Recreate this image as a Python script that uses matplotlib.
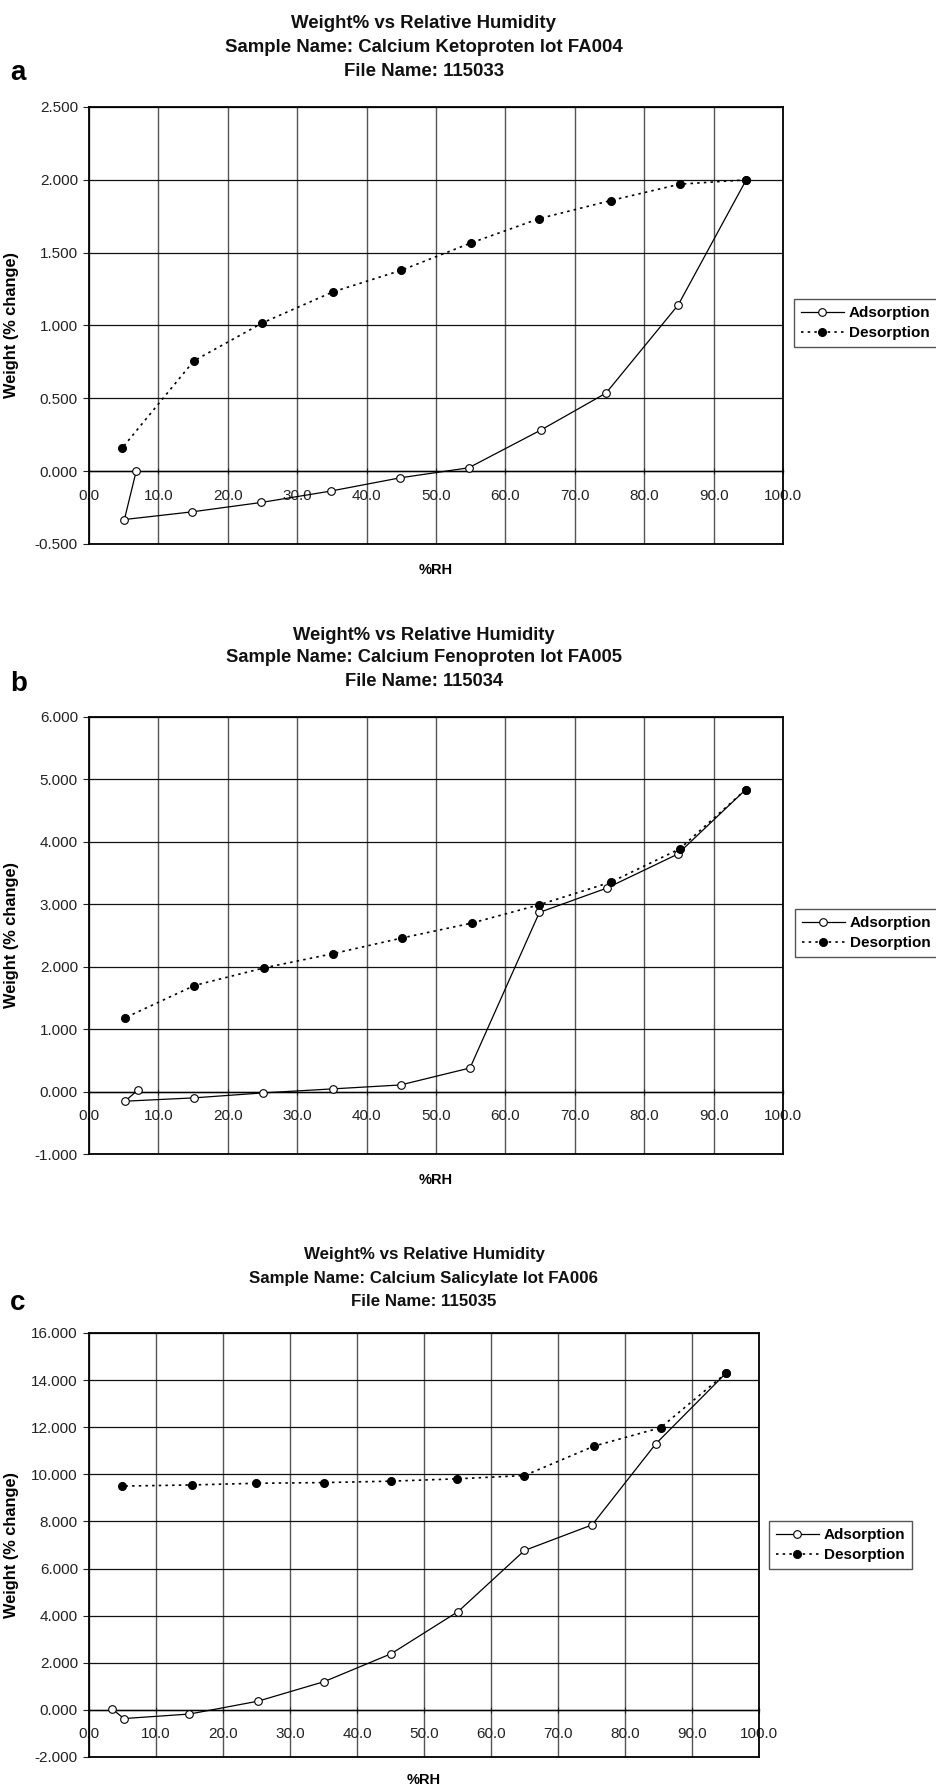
import matplotlib
matplotlib.use('Agg')
import matplotlib.pyplot as plt
from matplotlib.ticker import FormatStrFormatter, MultipleLocator

plt.rcParams['font.family'] = ['Liberation Sans', 'DejaVu Sans']

# panel a - Calcium Ketoproten
a_ads_x = [6.8, 5.1, 14.9, 24.8, 34.8, 44.8, 54.7, 65.1, 74.5, 84.9, 94.7]
a_ads_y = [0.000, -0.332, -0.279, -0.215, -0.137, -0.046, 0.023, 0.282, 0.536, 1.141, 2.000]
a_des_x = [94.7, 85.1, 75.2, 64.9, 55.0, 45.0, 35.1, 25.0, 15.1, 4.8]
a_des_y = [2.000, 1.970, 1.858, 1.734, 1.566, 1.379, 1.230, 1.018, 0.757, 0.160]

# panel b - Calcium Fenoproten
b_ads_x = [7.0, 5.2, 15.1, 25.1, 35.1, 44.9, 54.9, 64.9, 74.6, 84.8, 94.6]
b_ads_y = [0.021, -0.154, -0.101, -0.021, 0.043, 0.106, 0.378, 2.870, 3.259, 3.802, 4.835]
b_des_x = [94.6, 85.1, 75.2, 64.9, 55.2, 45.1, 35.2, 25.2, 15.2, 5.2]
b_des_y = [4.835, 3.887, 3.355, 2.993, 2.700, 2.460, 2.210, 1.981, 1.699, 1.182]

# panel c - Calcium Salicylate
c_ads_x = [3.5, 5.2, 15.0, 25.2, 35.1, 45.1, 55.1, 65.0, 75.1, 84.6, 95.1]
c_ads_y = [0.032, -0.368, -0.176, 0.368, 1.200, 2.384, 4.176, 6.768, 7.856, 11.296, 14.304]
c_des_x = [95.1, 85.3, 75.4, 65.0, 55.0, 45.1, 35.1, 24.9, 15.4, 4.9]
c_des_y = [14.30, 11.98, 11.20, 9.95, 9.81, 9.71, 9.65, 9.62, 9.55, 9.50]

titles_a = ['Weight% vs Relative Humidity', 'Sample Name: Calcium Ketoproten lot FA004', 'File Name: 115033']
titles_b = ['Weight% vs Relative Humidity', 'Sample Name: Calcium Fenoproten lot FA005', 'File Name: 115034']
titles_c = ['Weight% vs Relative Humidity', 'Sample Name: Calcium Salicylate lot FA006', 'File Name: 115035']

W, H = 937, 1788
fig = plt.figure(figsize=(W / 100, H / 100), dpi=100)


def panel(box, ads_x, ads_y, des_x, des_y, ylim, ystep, titles, title_ys, title_size,
          letter, letter_y, leg_xy, xlabel_y):
    left, top, right, bottom = box
    ax = fig.add_axes([left / W, 1 - bottom / H, (right - left) / W, (bottom - top) / H])
    ax.plot(ads_x, ads_y, color='black', lw=0.9, marker='o', ms=5.5, mfc='white',
            mec='black', mew=0.8, label='Adsorption', zorder=3)
    ax.plot(des_x, des_y, color='black', lw=1.2, ls=(0, (1.5, 2.5)), marker='o', ms=5.5,
            mfc='black', mec='black', label='Desorption', zorder=3)

    ax.set_xlim(0, 100)
    ax.set_ylim(*ylim)
    ax.xaxis.set_major_locator(MultipleLocator(10))
    ax.yaxis.set_major_locator(MultipleLocator(ystep))
    ax.xaxis.set_major_formatter(FormatStrFormatter('%.1f'))
    ax.yaxis.set_major_formatter(FormatStrFormatter('%.3f'))
    ax.set_axisbelow(True)
    ax.xaxis.grid(True, color='#555555', lw=1.0)
    ax.yaxis.grid(True, color='#111111', lw=0.9)

    # x axis crosses at y = 0, frame still closes at the bottom
    ax.spines['bottom'].set_position(('data', 0))
    ax.spines['bottom'].set_linewidth(1.0)
    for s in ['top', 'left', 'right']:
        ax.spines[s].set_linewidth(1.3)
    ax.plot([0, 1], [0, 0], transform=ax.transAxes, color='black', lw=1.3, clip_on=False)

    ax.tick_params(axis='x', direction='inout', length=5, pad=10, labelsize=11, colors='#222222')
    ax.tick_params(axis='y', direction='out', length=4, pad=4, labelsize=11, colors='#222222')

    ax.set_ylabel('Weight (% change)', fontsize=11.8, fontweight='bold')
    ax.yaxis.set_label_coords((19 - left) / (right - left), 0.5)
    fig.text((left + right) / 2 / W, 1 - xlabel_y / H, '%RH', ha='center', va='center',
             fontsize=10.5, fontweight='bold')

    for t, ty in zip(titles, title_ys):
        fig.text(424 / W, 1 - ty / H, t, ha='center', va='center', fontsize=title_size,
                 fontweight='bold', color='#111111')
    fig.text(10 / W, 1 - letter_y / H, letter, ha='left', va='center', fontsize=20,
             fontweight='bold')

    leg = ax.legend(loc='upper left', bbox_to_anchor=(leg_xy[0] / W, 1 - leg_xy[1] / H),
                    bbox_transform=fig.transFigure, frameon=True, fancybox=False,
                    edgecolor='#555555', framealpha=1, borderaxespad=0, handlelength=2.8,
                    handletextpad=0.35, borderpad=0.45, labelspacing=0.4,
                    prop=dict(weight='bold', size=11))
    leg.get_frame().set_linewidth(1.0)
    return ax


panel((89, 107, 783, 544), a_ads_x, a_ads_y, a_des_x, a_des_y, (-0.5, 2.5), 0.5,
      titles_a, [23, 47, 72], 13.4, 'a', 73, (794, 299), 570)
panel((89, 717, 783, 1154), b_ads_x, b_ads_y, b_des_x, b_des_y, (-1, 6), 1,
      titles_b, [635, 658, 682], 13.2, 'b', 684, (795, 909), 1180)
panel((89, 1333, 759, 1757), c_ads_x, c_ads_y, c_des_x, c_des_y, (-2, 16), 2,
      titles_c, [1255, 1278, 1302], 12.2, 'c', 1303, (769, 1521), 1780)

fig.savefig('out.png', dpi=100)
